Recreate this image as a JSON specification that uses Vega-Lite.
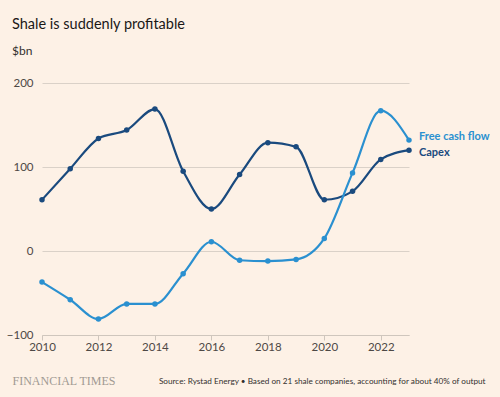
{
  "$schema": "https://vega.github.io/schema/vega-lite/v6.json",
  "width": 367,
  "height": 252,
  "autosize": {"type": "none"},
  "padding": {"left": 42, "top": 83, "right": 91, "bottom": 62},
  "background": "#fdf1e6",
  "config": {"view": {"stroke": null}, "font": "Lato"},
  "title": {
    "text": "Shale is suddenly profitable",
    "subtitle": "$bn",
    "anchor": "start",
    "frame": "group",
    "dx": -30,
    "offset": 19,
    "fontSize": 14.5,
    "fontWeight": "normal",
    "color": "#1a1817",
    "subtitleFontSize": 12,
    "subtitleColor": "#33302e",
    "subtitlePadding": 14
  },
  "data": {
    "values": [
      {"year": 2010, "series": "Capex", "value": 61},
      {"year": 2011, "series": "Capex", "value": 98},
      {"year": 2012, "series": "Capex", "value": 134},
      {"year": 2013, "series": "Capex", "value": 144},
      {"year": 2014, "series": "Capex", "value": 169},
      {"year": 2015, "series": "Capex", "value": 95},
      {"year": 2016, "series": "Capex", "value": 50},
      {"year": 2017, "series": "Capex", "value": 91},
      {"year": 2018, "series": "Capex", "value": 129},
      {"year": 2019, "series": "Capex", "value": 124},
      {"year": 2020, "series": "Capex", "value": 61},
      {"year": 2021, "series": "Capex", "value": 71},
      {"year": 2022, "series": "Capex", "value": 109},
      {"year": 2023, "series": "Capex", "value": 120},
      {"year": 2010, "series": "Free cash flow", "value": -37},
      {"year": 2011, "series": "Free cash flow", "value": -58},
      {"year": 2012, "series": "Free cash flow", "value": -81},
      {"year": 2013, "series": "Free cash flow", "value": -63},
      {"year": 2014, "series": "Free cash flow", "value": -63},
      {"year": 2015, "series": "Free cash flow", "value": -27},
      {"year": 2016, "series": "Free cash flow", "value": 11},
      {"year": 2017, "series": "Free cash flow", "value": -11},
      {"year": 2018, "series": "Free cash flow", "value": -12},
      {"year": 2019, "series": "Free cash flow", "value": -10},
      {"year": 2020, "series": "Free cash flow", "value": 15},
      {"year": 2021, "series": "Free cash flow", "value": 93},
      {"year": 2022, "series": "Free cash flow", "value": 167},
      {"year": 2023, "series": "Free cash flow", "value": 132}
    ]
  },
  "encoding": {
    "x": {
      "field": "year",
      "type": "quantitative",
      "scale": {"domain": [2010, 2023], "nice": false, "zero": false},
      "axis": {
        "values": [2010, 2012, 2014, 2016, 2018, 2020, 2022],
        "format": "d",
        "grid": false,
        "domain": true,
        "domainColor": "#cfc6bd",
        "tickColor": "#cfc6bd",
        "tickSize": 5,
        "labelFlush": false,
        "labelOverlap": false,
        "labelFontSize": 11.5,
        "labelColor": "#4d4845",
        "labelPadding": 1,
        "title": "Source: Rystad Energy • Based on 21 shale companies, accounting for about 40% of output",
        "titleFontSize": 8.2,
        "titleFontWeight": "normal",
        "titleColor": "#33302e",
        "titleAlign": "right",
        "titleBaseline": "middle",
        "titleX": 443,
        "titleY": 46
      }
    },
    "y": {
      "field": "value",
      "type": "quantitative",
      "scale": {"domain": [-100, 200], "nice": false},
      "axis": {
        "values": [-100, 0, 100, 200],
        "domain": false,
        "ticks": false,
        "gridColor": "#dad1c8",
        "gridWidth": 1,
        "labelFontSize": 11.5,
        "labelColor": "#4d4845",
        "labelPadding": 9,
        "title": "FINANCIAL TIMES",
        "titleFont": "Liberation Serif",
        "titleFontSize": 12,
        "titleFontWeight": "normal",
        "titleColor": "#a19a93",
        "titleAngle": 0,
        "titleAlign": "left",
        "titleBaseline": "middle",
        "titleX": -30,
        "titleY": 297
      }
    },
    "color": {
      "field": "series",
      "type": "nominal",
      "scale": {"domain": ["Capex", "Free cash flow"], "range": ["#1a4a7e", "#2a90d0"]},
      "legend": null
    }
  },
  "layer": [
    {
      "mark": {"type": "line", "interpolate": "monotone", "strokeWidth": 2.2}
    },
    {
      "mark": {"type": "point", "filled": true, "size": 30, "opacity": 1}
    },
    {
      "transform": [{"filter": "datum.year == 2023 && datum.series == 'Free cash flow'"}],
      "mark": {"type": "text", "align": "left", "dx": 10, "dy": -3, "fontSize": 11, "fontWeight": "bold"},
      "encoding": {"text": {"field": "series"}}
    },
    {
      "transform": [{"filter": "datum.year == 2023 && datum.series == 'Capex'"}],
      "mark": {"type": "text", "align": "left", "dx": 10, "dy": 3, "fontSize": 11, "fontWeight": "bold"},
      "encoding": {"text": {"field": "series"}}
    }
  ]
}
